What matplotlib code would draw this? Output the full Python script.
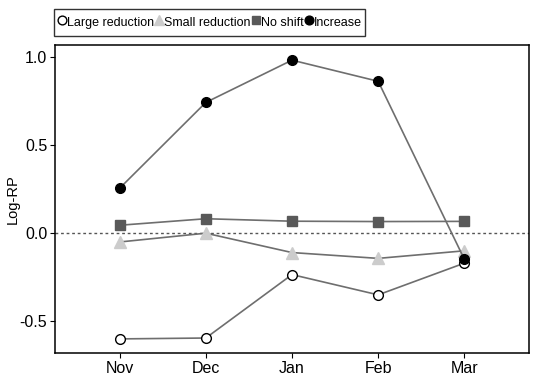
import numpy as np
import matplotlib
matplotlib.use("Agg")
import matplotlib.pyplot as plt
from matplotlib.lines import Line2D

plt.rcParams["font.family"] = ["Liberation Sans", "DejaVu Sans"]

# data
months = ["Nov", "Dec", "Jan", "Feb", "Mar"]
large_reduction = [-0.60, -0.595, -0.235, -0.35, -0.17]
small_reduction = [-0.05, 0.0, -0.11, -0.143, -0.10]
no_shift = [0.045, 0.082, 0.068, 0.066, 0.067]
increase = [0.255, 0.742, 0.982, 0.862, -0.148]

series = [
    ("Large reduction", large_reduction, dict(marker="o", mfc="white", mec="black", ms=7, mew=1.0)),
    ("Small reduction", small_reduction, dict(marker="^", mfc="#cccccc", mec="#cccccc", ms=8)),
    ("No shift", no_shift, dict(marker="s", mfc="#595959", mec="#595959", ms=6.5)),
    ("Increase", increase, dict(marker="o", mfc="black", mec="black", ms=7)),
]

fig = plt.figure(figsize=(5.36, 3.78), dpi=100)
ax = fig.add_axes([55/536, 1 - 353/378, (529 - 55)/536, (353 - 45)/378])

x = np.arange(len(months))
ax.axhline(0, color="#555555", lw=1.0, ls=(0, (2, 2)), zorder=1)
handles = []
for name, vals, style in series:
    ax.plot(x, vals, color="#6e6e6e", lw=1.2, zorder=2, ls="-", **style)
    handles.append(Line2D([], [], ls="none", label=name, **style))

ax.set_xlim(-0.75, 4.75)
ax.set_ylim(-0.68, 1.068)
ax.set_xticks(x)
ax.set_xticklabels(months)
ax.set_yticks([-0.5, 0.0, 0.5, 1.0])
ax.set_yticklabels(["-0.5", "0.0", "0.5", "1.0"])
ax.tick_params(labelsize=11.5, length=3.5, width=0.8, colors="black", pad=2)
ax.set_ylabel("Log-RP", fontsize=10.5, labelpad=1)
ax.yaxis.set_label_coords(-0.075, 0.5)
for s in ax.spines.values():
    s.set_linewidth(1.1)

leg = fig.legend(handles=handles, loc="upper left", bbox_to_anchor=(54/536, 1 - 9/378),
                 ncol=4, frameon=True, fontsize=9.0, handlelength=0.7, handletextpad=0.05,
                 handleheight=2.0, columnspacing=0.05, borderpad=0.3, borderaxespad=0,
                 fancybox=False, markerscale=0.9)
leg.get_frame().set_edgecolor("black")
leg.get_frame().set_linewidth(1.0)

fig.savefig("out.png", dpi=100)
